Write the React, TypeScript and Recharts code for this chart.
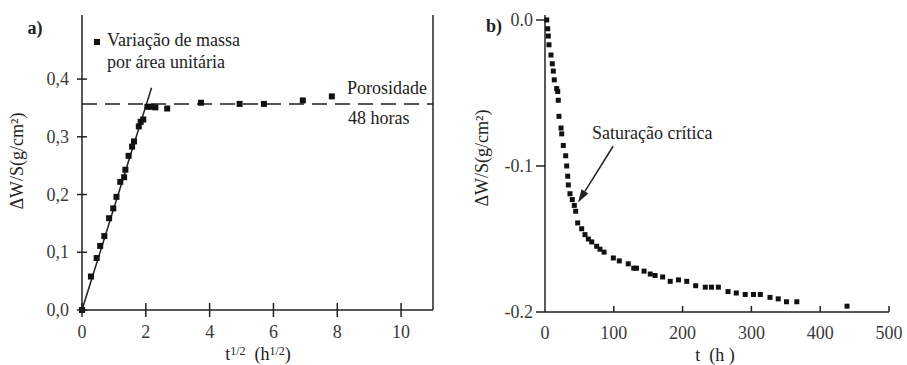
import React from 'react';
import { ScatterChart, Scatter, XAxis, YAxis, ReferenceLine } from 'recharts';

// a) ganho de massa x raiz do tempo
const sqrtTime = [0, 0.28, 0.46, 0.57, 0.7, 0.85, 0.98, 1.08, 1.2, 1.32, 1.36, 1.46, 1.57, 1.63, 1.78, 1.84, 1.92, 2.05, 2.17, 2.3, 2.67, 3.73, 4.94, 5.7, 6.92, 7.83];
const massGain = [0, 0.058, 0.09, 0.111, 0.128, 0.159, 0.176, 0.196, 0.222, 0.23, 0.243, 0.267, 0.283, 0.292, 0.318, 0.326, 0.33, 0.352, 0.352, 0.351, 0.349, 0.359, 0.357, 0.357, 0.363, 0.37];
const porosity48h = 0.357;
const fitStart = { x: 0, y: 0 };
const fitEnd = { x: 2.18, y: 0.385 };
const leftXTicks = [0, 2, 4, 6, 8, 10];
const leftYTicks = [0, 0.1, 0.2, 0.3, 0.4];

// b) perda de massa x tempo
const hours = [2.5, 3.9, 4.8, 5.8, 8.7, 10.6, 12.1, 13.5, 17, 18.5, 19.3, 20.3, 23.3, 24.3, 26.6, 30.1, 31.5, 33, 33.9, 36.3, 39.7, 42.6, 44.6, 47.5, 53.3, 58.1, 63, 67.9, 75.1, 79.9, 85.8, 99.3, 108, 121, 129, 133, 144, 153, 160, 171, 182, 194, 206, 219, 233, 242, 252, 266, 278, 291, 303, 313, 327, 339, 351, 366, 439];
const massLoss = [0, -0.006, -0.011, -0.017, -0.024, -0.03, -0.035, -0.041, -0.047, -0.049, -0.055, -0.066, -0.074, -0.078, -0.086, -0.093, -0.1, -0.107, -0.113, -0.119, -0.123, -0.127, -0.131, -0.139, -0.143, -0.147, -0.15, -0.152, -0.155, -0.157, -0.159, -0.163, -0.165, -0.167, -0.17, -0.17, -0.172, -0.174, -0.175, -0.176, -0.179, -0.178, -0.179, -0.182, -0.183, -0.183, -0.183, -0.186, -0.187, -0.188, -0.188, -0.188, -0.19, -0.191, -0.193, -0.193, -0.196];
const rightXTicks = [0, 100, 200, 300, 400, 500];
const rightYTicks = [0, -0.1, -0.2];
const arrowFrom = { x: 99, y: -0.0865 };
const arrowTo = { x: 48, y: -0.125 };

const ink = '#222';
const tickInk = '#3a3a3a';
const serif = "'Times New Roman', 'Liberation Serif', 'DejaVu Serif', serif";

const leftPoints = sqrtTime.map((x, i) => ({ x, y: massGain[i] }));
const rightPoints = hours.map((x, i) => ({ x, y: massLoss[i] }));

const Square = (props: any) => (
  <rect x={props.cx - 3} y={props.cy - 3} width={6} height={6} fill="#111" />
);
const SmallSquare = (props: any) => (
  <rect x={props.cx - 2.5} y={props.cy - 2.5} width={5} height={5} fill="#111" />
);

// tickSize=0 so the axis sits at x + tickMargin / y - tickMargin
function LeftYTick({ x, y, payload }: any) {
  const ax = x + 8;
  return (
    <g>
      <line x1={ax - 5} x2={ax + 5} y1={y} y2={y} stroke={ink} strokeWidth={1.5} />
      <text x={ax - 13} y={y} textAnchor="end" dominantBaseline="central" fontSize={18} fill={tickInk} style={{ fontFamily: serif }}>
        {payload.value.toFixed(1).replace('.', ',')}
      </text>
    </g>
  );
}

function LeftXTick({ x, y, payload }: any) {
  const ay = y - 10;
  return (
    <g>
      <line x1={x} x2={x} y1={ay - 7} y2={ay + 7} stroke={ink} strokeWidth={1.5} />
      <text x={x} y={ay + 22} textAnchor="middle" dominantBaseline="central" fontSize={18} fill={tickInk} style={{ fontFamily: serif }}>
        {payload.value}
      </text>
    </g>
  );
}

function RightYTick({ x, y, payload }: any) {
  const ax = x + 8;
  return (
    <g>
      <line x1={ax - 9} x2={ax} y1={y} y2={y} stroke={ink} strokeWidth={1.5} />
      <text x={ax - 12} y={y} textAnchor="end" dominantBaseline="central" fontSize={18} fill={tickInk} style={{ fontFamily: serif }}>
        {payload.value.toFixed(1)}
      </text>
    </g>
  );
}

function RightXTick({ x, y, payload }: any) {
  const ay = y - 10;
  return (
    <g>
      {payload.value !== 0 && <line x1={x} x2={x} y1={ay - 6} y2={ay} stroke={ink} strokeWidth={1.5} />}
      <text x={x} y={ay + 21} textAnchor="middle" dominantBaseline="central" fontSize={18} fill={tickInk} style={{ fontFamily: serif }}>
        {payload.value}
      </text>
    </g>
  );
}

const Arrow = (props: any) => {
  const { x1, y1, x2, y2 } = props;
  const ang = Math.atan2(y2 - y1, x2 - x1);
  const len = 13;
  const half = 4;
  const bx = x2 - len * Math.cos(ang);
  const by = y2 - len * Math.sin(ang);
  const px = -Math.sin(ang) * half;
  const py = Math.cos(ang) * half;
  return (
    <g>
      <line x1={x1} y1={y1} x2={bx} y2={by} stroke={ink} strokeWidth={1.5} />
      <polygon points={`${x2},${y2} ${bx + px},${by + py} ${bx - px},${by - py}`} fill={ink} />
    </g>
  );
};

function Note({ x, y, children, bold, center, rotate }: any) {
  let transform = 'translateY(-50%)';
  if (center) transform = 'translate(-50%, -50%)';
  if (rotate) transform = 'translate(-50%, -50%) rotate(-90deg)';
  return (
    <div
      style={{
        position: 'absolute',
        left: x,
        top: y,
        fontSize: 18,
        lineHeight: 1,
        whiteSpace: 'nowrap',
        fontWeight: bold ? 'bold' : 'normal',
        transform,
      }}
    >
      {children}
    </div>
  );
}

const supStyle = { fontSize: 12, verticalAlign: 'top', lineHeight: 1 } as const;

export default function App() {
  const axisLine = { stroke: ink, strokeWidth: 1.5 };
  return (
    <div
      style={{
        position: 'absolute',
        left: 0,
        top: 0,
        width: 907,
        height: 365,
        background: '#fff',
        fontFamily: serif,
        color: ink,
        overflow: 'hidden',
      }}
    >
      <div style={{ position: 'absolute', left: 0, top: 0 }}>
        <ScatterChart width={450} height={365} margin={{ top: 15, right: 17, bottom: 25, left: 32 }}>
          <XAxis
            type="number"
            dataKey="x"
            domain={[0, 11]}
            ticks={leftXTicks}
            height={30}
            tickSize={0}
            tickMargin={10}
            tickLine={false}
            axisLine={axisLine}
            tick={<LeftXTick />}
          />
          <YAxis
            type="number"
            dataKey="y"
            domain={[0, 0.511]}
            ticks={leftYTicks}
            width={50}
            tickSize={0}
            tickMargin={8}
            tickLine={false}
            axisLine={axisLine}
            tick={<LeftYTick />}
          />
          <ReferenceLine x={11} stroke={ink} strokeWidth={1.5} />
          <ReferenceLine y={porosity48h} stroke={ink} strokeWidth={1.5} strokeDasharray="15 8" />
          <ReferenceLine segment={[fitStart, fitEnd]} stroke={ink} strokeWidth={1.5} />
          <Scatter data={leftPoints} shape={Square} isAnimationActive={false} />
        </ScatterChart>
      </div>

      <div style={{ position: 'absolute', left: 450, top: 0 }}>
        <ScatterChart width={457} height={365} margin={{ top: 15, right: 18, bottom: 23, left: 35 }}>
          <XAxis
            type="number"
            dataKey="x"
            domain={[0, 500]}
            ticks={rightXTicks}
            height={30}
            tickSize={0}
            tickMargin={10}
            tickLine={false}
            axisLine={axisLine}
            tick={<RightXTick />}
          />
          <YAxis
            type="number"
            dataKey="y"
            domain={[-0.2, 0.0034]}
            ticks={rightYTicks}
            width={60}
            tickSize={0}
            tickMargin={8}
            tickLine={false}
            axisLine={axisLine}
            tick={<RightYTick />}
          />
          <ReferenceLine segment={[arrowFrom, arrowTo]} shape={Arrow} />
          <Scatter data={rightPoints} shape={SmallSquare} isAnimationActive={false} />
        </ScatterChart>
      </div>

      <Note x={35} y={28} center bold>a)</Note>
      <div style={{ position: 'absolute', left: 94, top: 39, width: 6, height: 6, background: '#111' }} />
      <Note x={107} y={40}>Variação de massa</Note>
      <Note x={107} y={62}>por área unitária</Note>
      <Note x={347} y={88}>Porosidade</Note>
      <Note x={348} y={118}>48 horas</Note>
      <Note x={17} y={161} rotate>ΔW/S(g/cm²)</Note>
      <Note x={258} y={354} center>
        t<sup style={supStyle}>1/2</sup>&nbsp;&nbsp;(h<sup style={supStyle}>1/2</sup>)
      </Note>

      <Note x={494} y={26} center bold>b)</Note>
      <Note x={482} y={158} rotate>ΔW/S(g/cm²)</Note>
      <Note x={592} y={133}>Saturação crítica</Note>
      <Note x={715} y={355} center>t&nbsp;&nbsp;(h&nbsp;)</Note>
    </div>
  );
}
